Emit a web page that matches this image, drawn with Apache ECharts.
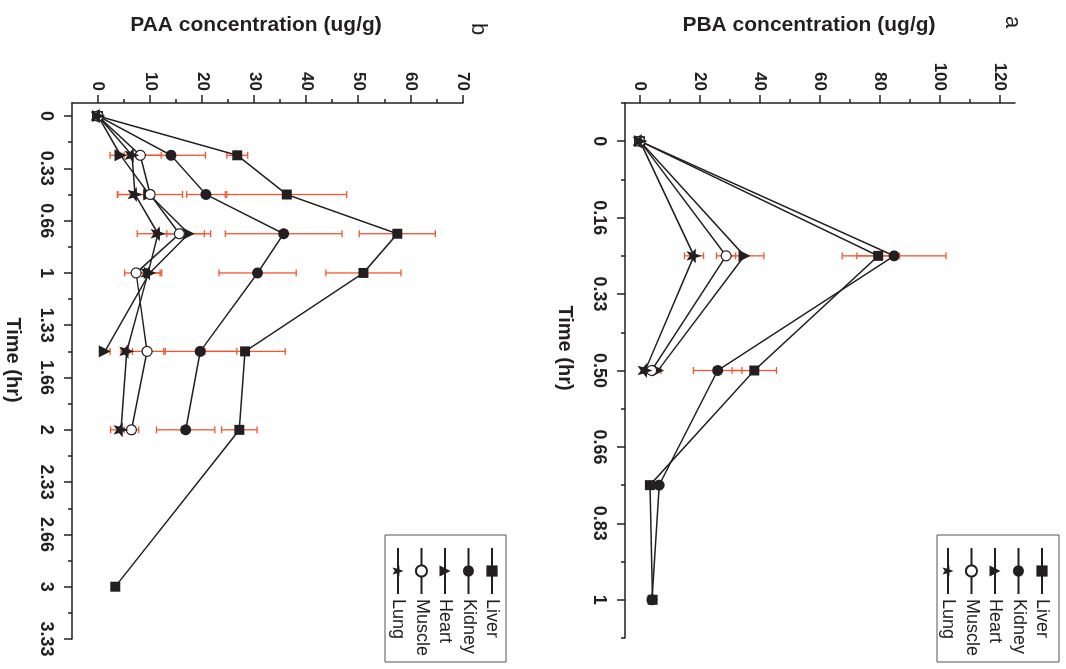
<!DOCTYPE html>
<html><head><meta charset="utf-8">
<script src="https://cdn.jsdelivr.net/npm/echarts@6/dist/echarts.min.js"></script>
<style>
html,body{margin:0;padding:0;width:1066px;height:669px;overflow:hidden;background:#fff;}
#chart{position:absolute;left:0;top:0;width:669px;height:1066px;transform-origin:0 0;transform:translate(1066px,0) rotate(90deg);}
</style></head><body><div id="chart"></div>
<script>
// ---------- data ----------
const seriesNames = ['Liver', 'Kidney', 'Heart', 'Muscle', 'Lung'];

// Panel a: PBA
const timesA = [0, 0.25, 0.5, 0.75, 1];
const pbaLiver  = [0, 79.4, 38.1, 3.3, 4.2];
const pbaKidney = [0, 84.7, 25.9, 6.4, 4.0];
const pbaHeart  = [0, 34.8, 6.0];
const pbaMuscle = [0, 28.7, 3.9];
const pbaLung   = [0, 18.0, 1.7];
const pbaLiverErr  = [0, 7.1, 7.4, 0.5, 0.5];
const pbaKidneyErr = [0, 17.3, 8.1, 0.5, 0.5];
const pbaHeartErr  = [0, 6.5, 1.0];
const pbaMuscleErr = [0, 3.2, 1.2];
const pbaLungErr   = [0, 3.2, 1.0];

// Panel b: PAA
const timesB = [0, 0.25, 0.5, 0.75, 1, 1.5, 2, 3];
const paaLiver  = [0, 26.7, 36.2, 57.4, 50.9, 28.2, 27.1, 3.3];
const paaKidney = [0, 14.0, 20.7, 35.6, 30.6, 19.6, 16.8];
const paaHeart  = [0, 4.3, 9.8, 17.4, 9.9, 1.3];
const paaMuscle = [0, 8.1, 10.0, 15.6, 7.3, 9.4, 6.4];
const paaLung   = [0, 6.5, 7.1, 11.5, 9.6, 5.5, 4.4];
const paaLiverErr  = [0, 2.0, 11.5, 7.3, 7.2, 7.7, 3.4, 0.3];
const paaKidneyErr = [0, 6.6, 3.7, 11.2, 7.4, 7.0, 5.6];
const paaHeartErr  = [0, 2.0, 1.0, 4.2, 2.3, 1.0];
const paaMuscleErr = [0, 4.0, 6.2, 4.8, 2.2, 3.5, 1.4];
const paaLungErr   = [0, 1.5, 3.4, 4.0, 2.3, 1.1, 2.0];

// ticks
const timeTicksA  = [0, 1/6, 2/6, 3/6, 4/6, 5/6, 1];
const timeLabelsA = ['0', '0.16', '0.33', '0.50', '0.66', '0.83', '1'];
const timeMinorA  = [-1/12, 1/12, 3/12, 5/12, 7/12, 9/12, 11/12, 13/12];
const timeTicksB  = [0, 1/3, 2/3, 1, 4/3, 5/3, 2, 7/3, 8/3, 3, 10/3];
const timeLabelsB = ['0', '0.33', '0.66', '1', '1.33', '1.66', '2', '2.33', '2.66', '3', '3.33'];
const timeMinorB  = [1/6, 3/6, 5/6, 7/6, 9/6, 11/6, 13/6, 15/6, 17/6, 19/6];
const concTicksA  = [0, 20, 40, 60, 80, 100, 120];
const concMinorA  = [10, 30, 50, 70, 90, 110];
const concTicksB  = [0, 10, 20, 30, 40, 50, 60, 70];
const concMinorB  = [5, 15, 25, 35, 45, 55, 65];

// ---------- style ----------
const FONT = 'Liberation Sans, Arial, Helvetica, sans-serif';
const INK = '#231f20';
const ERR = '#f4562e';
const STAR = 'path://M0,-10 L2.6,-3.2 L9.5,-3.1 L4.1,1.4 L5.9,8.1 L0,4.2 L-5.9,8.1 L-4.1,1.4 L-9.5,-3.1 L-2.6,-3.2 Z';
const markers = {
  Liver:  {symbol: 'rect', size: 10, fill: INK},
  Kidney: {symbol: 'circle', size: 11, fill: INK},
  Heart:  {symbol: 'triangle', size: 12, fill: INK},
  Muscle: {symbol: 'circle', size: 10, fill: '#ffffff'},
  Lung:   {symbol: STAR, size: 15, fill: INK}
};

function pairs(t, v) { return v.map((y, i) => [t[i], y]); }
function triples(t, v, e) { return v.map((y, i) => [t[i], y, e[i]]); }
function labelFor(ticks, labels) {
  return function (v) {
    const i = ticks.findIndex(t => Math.abs(t - v) < 1e-6);
    return i >= 0 ? labels[i] : '';
  };
}

function renderErr(params, api) {
  const t = api.value(0), v = api.value(1), e = api.value(2);
  if (!(e > 0)) return;
  const lo = api.coord([t, v - e]), hi = api.coord([t, v + e]);
  const w = 3.5;
  const st = {stroke: ERR, lineWidth: 1.3};
  return {type: 'group', children: [
    {type: 'line', shape: {x1: lo[0], y1: lo[1], x2: hi[0], y2: hi[1]}, style: st},
    {type: 'line', shape: {x1: lo[0] - w, y1: lo[1], x2: lo[0] + w, y2: lo[1]}, style: st},
    {type: 'line', shape: {x1: hi[0] - w, y1: hi[1], x2: hi[0] + w, y2: hi[1]}, style: st}
  ]};
}

function lineSeries(name, times, vals, axisIdx) {
  const m = markers[name];
  return {
    type: 'line', name: name, xAxisIndex: axisIdx, yAxisIndex: axisIdx,
    data: pairs(times, vals), symbol: m.symbol, symbolSize: m.size, showSymbol: true,
    lineStyle: {color: INK, width: 1.5},
    itemStyle: {color: m.fill, borderColor: INK, borderWidth: name === 'Muscle' ? 1.2 : 0},
    emphasis: {disabled: true}, z: 3
  };
}
function errSeries(name, times, vals, errs, axisIdx) {
  return {
    type: 'custom', name: name + ' err', xAxisIndex: axisIdx, yAxisIndex: axisIdx,
    data: triples(times, vals, errs), renderItem: renderErr,
    encode: {x: 0, y: 1}, z: 2, silent: true
  };
}

function mainTimeAxis(grid, min, max, ticks, labels) {
  return {
    type: 'value', gridIndex: grid, min: min, max: max, position: 'bottom',
    axisLine: {show: true, onZero: false, lineStyle: {color: INK, width: 1.5}},
    axisTick: {show: true, customValues: ticks, length: 8, lineStyle: {color: INK, width: 1.5}},
    axisLabel: {customValues: ticks, formatter: labelFor(ticks, labels), margin: 17,
      fontSize: 18, fontWeight: 'bold', color: INK, fontFamily: FONT, hideOverlap: false},
    splitLine: {show: false}
  };
}
function minorAxis(grid, min, max, ticks, pos) {
  return {
    type: 'value', gridIndex: grid, min: min, max: max, position: pos,
    axisLine: {show: false, onZero: false},
    axisTick: {show: true, customValues: ticks, length: 4, lineStyle: {color: INK, width: 1.5}},
    axisLabel: {show: false}, splitLine: {show: false}
  };
}
function mainConcAxis(grid, min, max, ticks) {
  return {
    type: 'value', gridIndex: grid, min: min, max: max, position: 'left',
    axisLine: {show: true, onZero: false, lineStyle: {color: INK, width: 1.5}},
    axisTick: {show: true, customValues: ticks, length: 8, lineStyle: {color: INK, width: 1.5}},
    axisLabel: {customValues: ticks, margin: 12, fontSize: 17, fontWeight: 'bold', color: INK, fontFamily: FONT, hideOverlap: false},
    splitLine: {show: false}
  };
}

const gridA = {left: 103, right: 31, top: 51, bottom: 625, outerBoundsMode: 'none'};
const gridB = {left: 103, right: 30, top: 603, bottom: 72, outerBoundsMode: 'none'};

const series = [];
const aVals = [pbaLiver, pbaKidney, pbaHeart, pbaMuscle, pbaLung];
const aErrs = [pbaLiverErr, pbaKidneyErr, pbaHeartErr, pbaMuscleErr, pbaLungErr];
const bVals = [paaLiver, paaKidney, paaHeart, paaMuscle, paaLung];
const bErrs = [paaLiverErr, paaKidneyErr, paaHeartErr, paaMuscleErr, paaLungErr];
seriesNames.forEach((n, i) => series.push(errSeries(n + ' a', timesA, aVals[i], aErrs[i], 0)));
seriesNames.forEach((n, i) => series.push(errSeries(n + ' b', timesB, bVals[i], bErrs[i], 2)));
seriesNames.forEach((n, i) => series.push(lineSeries(n, timesA, aVals[i], 0)));
seriesNames.forEach((n, i) => series.push(lineSeries(n, timesB, bVals[i], 2)));

function legend(left, top, padding) {
  return {
    data: seriesNames, left: left, top: top, orient: 'vertical',
    itemWidth: 46, itemHeight: 14, itemGap: 3.5, selectedMode: false,
    padding: padding, borderColor: '#555', borderWidth: 1,
    textStyle: {fontSize: 18, lineHeight: 20, color: INK, fontFamily: FONT}
  };
}

function txt(x, y, text, font, rot) {
  return {type: 'text', x: x, y: y, rotation: rot || 0, silent: true,
    style: {text: text, font: font, fill: INK, align: 'center', verticalAlign: 'middle'}};
}

const option = {
  animation: false,
  backgroundColor: '#ffffff',
  grid: [gridA, gridA, gridB, gridB],
  xAxis: [
    mainTimeAxis(0, -1/12, 13/12, timeTicksA, timeLabelsA),
    minorAxis(1, -1/12, 13/12, timeMinorA, 'bottom'),
    mainTimeAxis(2, -1/12, 10/3, timeTicksB, timeLabelsB),
    minorAxis(3, -1/12, 10/3, timeMinorB, 'bottom')
  ],
  yAxis: [
    mainConcAxis(0, -5, 125, concTicksA),
    minorAxis(1, -5, 125, concMinorA, 'left'),
    mainConcAxis(2, -5, 70, concTicksB),
    minorAxis(3, -5, 70, concMinorB, 'left')
  ],
  legend: [legend(535, 7, [7, 6, 1, 12]), legend(535, 560, [4, 6, 3, 12])],
  graphic: [
    txt(25, 257, 'PBA concentration (ug/g)', 'bold 21px ' + FONT, Math.PI / 2),
    txt(25, 810, 'PAA concentration (ug/g)', 'bold 21px ' + FONT, Math.PI / 2),
    txt(348, 501, 'Time (hr)', 'bold 20px ' + FONT),
    txt(360, 1053, 'Time (hr)', 'bold 20px ' + FONT),
    txt(22, 54, 'a', '22px ' + FONT),
    txt(29, 588, 'b', '22px ' + FONT)
  ],
  series: series
};

const chart = echarts.init(document.getElementById('chart'), null, {renderer: 'canvas'});
chart.setOption(option);
</script></body></html>
